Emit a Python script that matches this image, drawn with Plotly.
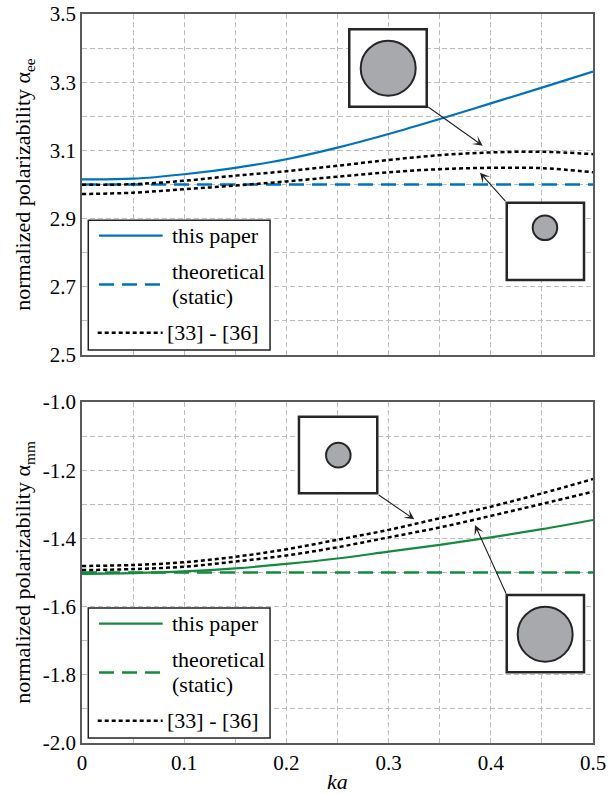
import plotly.graph_objects as go

# ---------------- data ----------------
ka = [0.0, 0.05, 0.10, 0.15, 0.20, 0.25, 0.30, 0.35, 0.40, 0.45, 0.50]

ee_this_paper = [3.015, 3.017, 3.030, 3.049, 3.074, 3.108, 3.148, 3.192, 3.238, 3.284, 3.331]
ee_ref_upper = [2.999, 3.001, 3.011, 3.026, 3.039, 3.055, 3.072, 3.086, 3.094, 3.096, 3.089]
ee_ref_lower = [2.972, 2.976, 2.986, 2.997, 3.009, 3.023, 3.036, 3.045, 3.049, 3.048, 3.036]
ee_static_x = [0.0, 0.5]
ee_static = [3.0, 3.0]

mm_this_paper = [-1.504, -1.502, -1.497, -1.488, -1.475, -1.459, -1.439, -1.419, -1.397, -1.373, -1.346]
mm_ref_upper = [-1.481, -1.478, -1.470, -1.454, -1.432, -1.404, -1.375, -1.341, -1.307, -1.268, -1.226]
mm_ref_lower = [-1.493, -1.490, -1.483, -1.468, -1.450, -1.426, -1.397, -1.368, -1.334, -1.299, -1.263]
mm_static_x = [0.0, 0.5]
mm_static = [-1.5, -1.5]

x_tickvals = [0.0, 0.05, 0.1, 0.15, 0.2, 0.25, 0.3, 0.35, 0.4, 0.45, 0.5]
x_ticktext = ["0", "", "0.1", "", "0.2", "", "0.3", "", "0.4", "", "0.5"]
ee_tickvals = [2.5, 2.6, 2.7, 2.8, 2.9, 3.0, 3.1, 3.2, 3.3, 3.4, 3.5]
ee_ticktext = ["2.5", "", "2.7", "", "2.9", "", "3.1", "", "3.3", "", "3.5"]
mm_tickvals = [-2.0, -1.9, -1.8, -1.7, -1.6, -1.5, -1.4, -1.3, -1.2, -1.1, -1.0]
mm_ticktext = ["-2.0", "", "-1.8", "", "-1.6", "", "-1.4", "", "-1.2", "", "-1.0"]

legend_labels = ["this paper", "theoretical", "(static)", "[33] - [36]"]

# ---------------- styles ----------------
FONT = "Liberation Serif, Times New Roman, serif"
BLUE = "#0072BD"
GREEN = "#138A3E"
DOT = "4px,3px"
DASH = "15px,8px"
GRID = "#bdbdbd"
FRAME = "#5a5a5a"
CIRC_FILL = "#a7a9ac"
EDGE = "#262626"

fig = go.Figure()

# top panel
fig.add_trace(go.Scatter(x=ka, y=ee_this_paper, mode="lines", line=dict(color=BLUE, width=2.2, shape="spline"),
                         xaxis="x", yaxis="y", showlegend=False))
fig.add_trace(go.Scatter(x=ee_static_x, y=ee_static, mode="lines", line=dict(color=BLUE, width=2.5, dash=DASH),
                         xaxis="x", yaxis="y", showlegend=False))
fig.add_trace(go.Scatter(x=ka, y=ee_ref_upper, mode="lines", line=dict(color="black", width=2.5, dash=DOT, shape="spline"),
                         xaxis="x", yaxis="y", showlegend=False))
fig.add_trace(go.Scatter(x=ka, y=ee_ref_lower, mode="lines", line=dict(color="black", width=2.5, dash=DOT, shape="spline"),
                         xaxis="x", yaxis="y", showlegend=False))
# bottom panel
fig.add_trace(go.Scatter(x=ka, y=mm_this_paper, mode="lines", line=dict(color=GREEN, width=2.2, shape="spline"),
                         xaxis="x2", yaxis="y2", showlegend=False))
fig.add_trace(go.Scatter(x=mm_static_x, y=mm_static, mode="lines", line=dict(color=GREEN, width=2.5, dash=DASH),
                         xaxis="x2", yaxis="y2", showlegend=False))
fig.add_trace(go.Scatter(x=ka, y=mm_ref_upper, mode="lines", line=dict(color="black", width=2.5, dash=DOT, shape="spline"),
                         xaxis="x2", yaxis="y2", showlegend=False))
fig.add_trace(go.Scatter(x=ka, y=mm_ref_lower, mode="lines", line=dict(color="black", width=2.5, dash=DOT, shape="spline"),
                         xaxis="x2", yaxis="y2", showlegend=False))

axis_common = dict(showline=True, mirror=True, linecolor=FRAME, linewidth=1.5,
                   showgrid=True, gridcolor=GRID, griddash="5px,3px", gridwidth=1,
                   zeroline=False, ticks="", tickmode="array",
                   tickfont=dict(family=FONT, size=21, color="black"), automargin=False)

fig.update_layout(
    width=610, height=794,
    margin=dict(l=82, r=17, t=14, b=51),
    paper_bgcolor="white", plot_bgcolor="white",
    font=dict(family=FONT, size=22, color="black"),
    xaxis=dict(axis_common, domain=[0, 1], range=[0, 0.5], anchor="y",
               tickvals=x_tickvals, ticktext=x_ticktext, showticklabels=False),
    yaxis=dict(axis_common, domain=[0.5322, 1], range=[2.5, 3.5], anchor="x",
               tickvals=ee_tickvals, ticktext=ee_ticktext,
               title=dict(text="normalized polarizability α<sub>ee</sub>", standoff=13,
                          font=dict(family=FONT, size=22))),
    xaxis2=dict(axis_common, domain=[0, 1], range=[0, 0.5], anchor="y2",
                tickvals=x_tickvals, ticktext=x_ticktext,
                title=dict(text="<i>ka</i>", standoff=2, font=dict(family=FONT, size=22))),
    yaxis2=dict(axis_common, domain=[0, 0.4678], range=[-2.0, -1.0], anchor="x2",
                tickvals=mm_tickvals, ticktext=mm_ticktext,
                title=dict(text="normalized polarizability α<sub>mm</sub>", standoff=6,
                           font=dict(family=FONT, size=22))),
)

shapes = []
annotations = []


def add_legend(xax, yax, color):
    xr = f"{xax} domain"
    yr = f"{yax} domain"
    shapes.append(dict(type="rect", xref=xr, yref=yr, x0=0.0123, x1=0.368, y0=0.0150, y1=0.3955,
                       fillcolor="white", line=dict(color="#222", width=1.5), layer="above"))
    shapes.append(dict(type="line", xref=xr, yref=yr, x0=0.0333, x1=0.1579, y0=0.350, y1=0.350,
                       line=dict(color=color, width=2.2), layer="above"))
    shapes.append(dict(type="line", xref=xr, yref=yr, x0=0.0333, x1=0.1579, y0=0.207, y1=0.207,
                       line=dict(color=color, width=2.5, dash=DASH), layer="above"))
    shapes.append(dict(type="line", xref=xr, yref=yr, x0=0.0307, x1=0.1579, y0=0.065, y1=0.065,
                       line=dict(color="black", width=2.5, dash=DOT), layer="above"))
    for txt, xx, yy in [(legend_labels[0], 0.1722, 0.350), (legend_labels[1], 0.1722, 0.2443),
                        (legend_labels[2], 0.1722, 0.171), (legend_labels[3], 0.1624, 0.065)]:
        annotations.append(dict(text=txt, xref=xr, yref=yr, x=xx, y=yy, xanchor="left", yanchor="middle",
                                showarrow=False, font=dict(family=FONT, size=22, color="black")))


def add_inset(xr, yr, sq, circ):
    shapes.append(dict(type="rect", xref=xr, yref=yr, x0=sq[0], x1=sq[1], y0=sq[2], y1=sq[3],
                       fillcolor="white", line=dict(color=EDGE, width=2.5), layer="above"))
    shapes.append(dict(type="circle", xref=xr, yref=yr, x0=circ[0], x1=circ[1], y0=circ[2], y1=circ[3],
                       fillcolor=CIRC_FILL, line=dict(color=EDGE, width=2), layer="above"))


def add_arrow(xr, yr, head, tail):
    annotations.append(dict(text="", xref=xr, yref=yr, axref=xr, ayref=yr,
                            x=head[0], y=head[1], ax=tail[0], ay=tail[1],
                            showarrow=True, arrowhead=3, arrowsize=1.5, arrowwidth=1.1, arrowcolor="#222"))


add_legend("x", "y", BLUE)
add_legend("x2", "y2", GREEN)

# top insets (large cylinder, small cylinder)
add_inset("x", "y", (0.2615, 0.3373, 3.2282, 3.4551), (0.2727, 0.3265, 3.2605, 3.4217))
add_inset("x", "y", (0.4156, 0.4912, 2.7199, 2.9466), (0.4410, 0.4650, 2.8372, 2.9094))
add_arrow("x", "y", (0.3921, 3.1138), (0.3373, 3.2302))
add_arrow("x", "y", (0.3894, 3.0346), (0.4156, 2.9466))

# bottom insets (small cylinder, large cylinder)
add_inset("x2", "y2", (0.2123, 0.2889, -1.2677, -1.0431), (0.2388, 0.2628, -1.1921, -1.1199))
add_inset("x2", "y2", (0.4156, 0.4912, -1.7927, -1.5660), (0.4263, 0.4801, -1.7615, -1.6003))
add_arrow("x2", "y2", (0.3251, -1.3440), (0.2889, -1.2698))
add_arrow("x2", "y2", (0.3845, -1.3607), (0.4156, -1.5660))

fig.update_layout(shapes=shapes, annotations=annotations)

fig.write_html("out.html", config={"displayModeBar": False},
               post_script="document.body.style.margin='0px';document.body.style.overflow='hidden';")
